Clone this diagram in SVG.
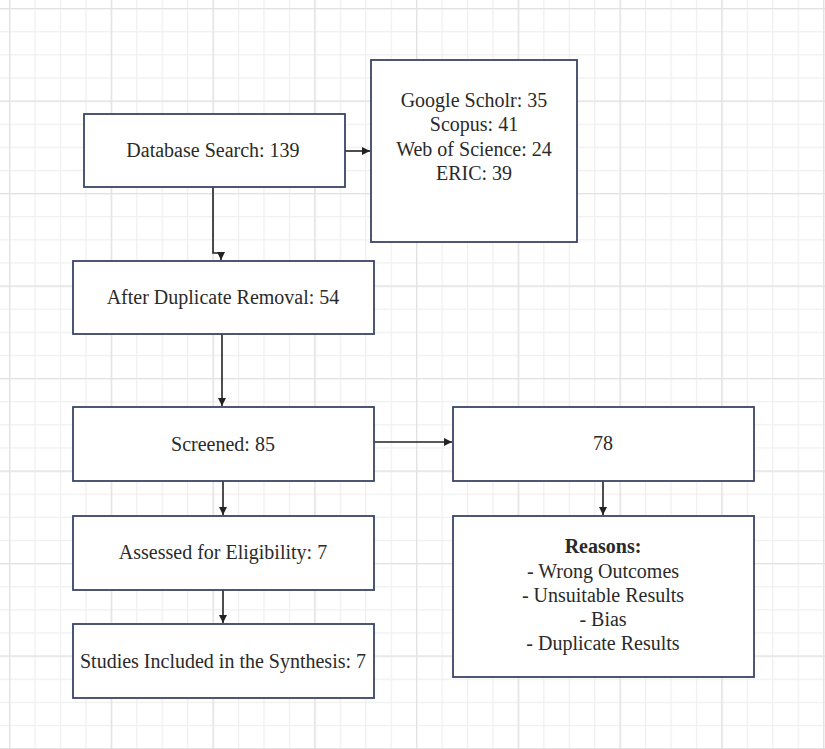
<svg xmlns="http://www.w3.org/2000/svg" width="825" height="749" viewBox="0 0 825 749">
<defs>
<style>
.box{fill:#fff;stroke:#3a4466;stroke-width:1.8}
.t{font-family:"Liberation Serif","Times New Roman",serif;font-size:20px;fill:#2a2a2a;text-anchor:middle}
.b{font-weight:bold}
.c{fill:none;stroke:#222;stroke-width:1.6}
</style>
<marker id="ah" viewBox="0 0 10 10" refX="10" refY="5" markerWidth="8" markerHeight="8" markerUnits="userSpaceOnUse" orient="auto">
<path d="M0,0 L10,5 L0,10 z" fill="#222"/>
</marker>
<pattern id="minor" x="9" y="8" width="25.44" height="23.125" patternUnits="userSpaceOnUse">
<path d="M0.5,0 V23.125 M0,0.5 H25.44" fill="none" stroke="#efefef" stroke-width="1.5"/>
</pattern>
<pattern id="major" x="9" y="8" width="101.75" height="92.5" patternUnits="userSpaceOnUse">
<path d="M0.5,0 V92.5 M0,0.5 H101.75" fill="none" stroke="#e2e2e2" stroke-width="1.6"/>
</pattern>
</defs>
<rect width="825" height="749" fill="#fff"/>
<rect width="825" height="749" fill="url(#minor)"/>
<rect width="825" height="749" fill="url(#major)"/>

<g id="connectors">
<path class="c" d="M345,151 H370" marker-end="url(#ah)"/>
<path class="c" d="M213,187 V253 H221 V260" marker-end="url(#ah)"/>
<path class="c" d="M222,334 V406" marker-end="url(#ah)"/>
<path class="c" d="M374,442 H452" marker-end="url(#ah)"/>
<path class="c" d="M223,481 V515" marker-end="url(#ah)"/>
<path class="c" d="M223,590 V623" marker-end="url(#ah)"/>
<path class="c" d="M603,481 V515" marker-end="url(#ah)"/>
</g>

<g id="database">
<rect class="box" x="84" y="114" width="261" height="73"/>
<text class="t" x="213" y="157">Database Search: 139</text>
</g>
<g id="sources">
<rect class="box" x="371" y="60" width="206" height="182"/>
<text class="t" x="474" y="107">Google Scholr: 35</text>
<text class="t" x="474" y="131">Scopus: 41</text>
<text class="t" x="474" y="156">Web of Science: 24</text>
<text class="t" x="474" y="180">ERIC: 39</text>
</g>
<g id="duplicates">
<rect class="box" x="73" y="261" width="301" height="73"/>
<text class="t" x="223" y="304">After Duplicate Removal: 54</text>
</g>
<g id="screened">
<rect class="box" x="73" y="407" width="301" height="74"/>
<text class="t" x="223" y="451">Screened: 85</text>
</g>
<g id="excluded">
<rect class="box" x="453" y="407" width="301" height="74"/>
<text class="t" x="603" y="450">78</text>
</g>
<g id="eligibility">
<rect class="box" x="73" y="516" width="301" height="74"/>
<text class="t" x="223" y="559">Assessed for Eligibility: 7</text>
</g>
<g id="reasons">
<rect class="box" x="453" y="516" width="301" height="161"/>
<text class="t b" x="603" y="553">Reasons:</text>
<text class="t" x="603" y="578">- Wrong Outcomes</text>
<text class="t" x="603" y="602">- Unsuitable Results</text>
<text class="t" x="603" y="626">- Bias</text>
<text class="t" x="603" y="650">- Duplicate Results</text>
</g>
<g id="included">
<rect class="box" x="73" y="624" width="301" height="74"/>
<text class="t" x="223" y="668">Studies Included in the Synthesis: 7</text>
</g>
</svg>
